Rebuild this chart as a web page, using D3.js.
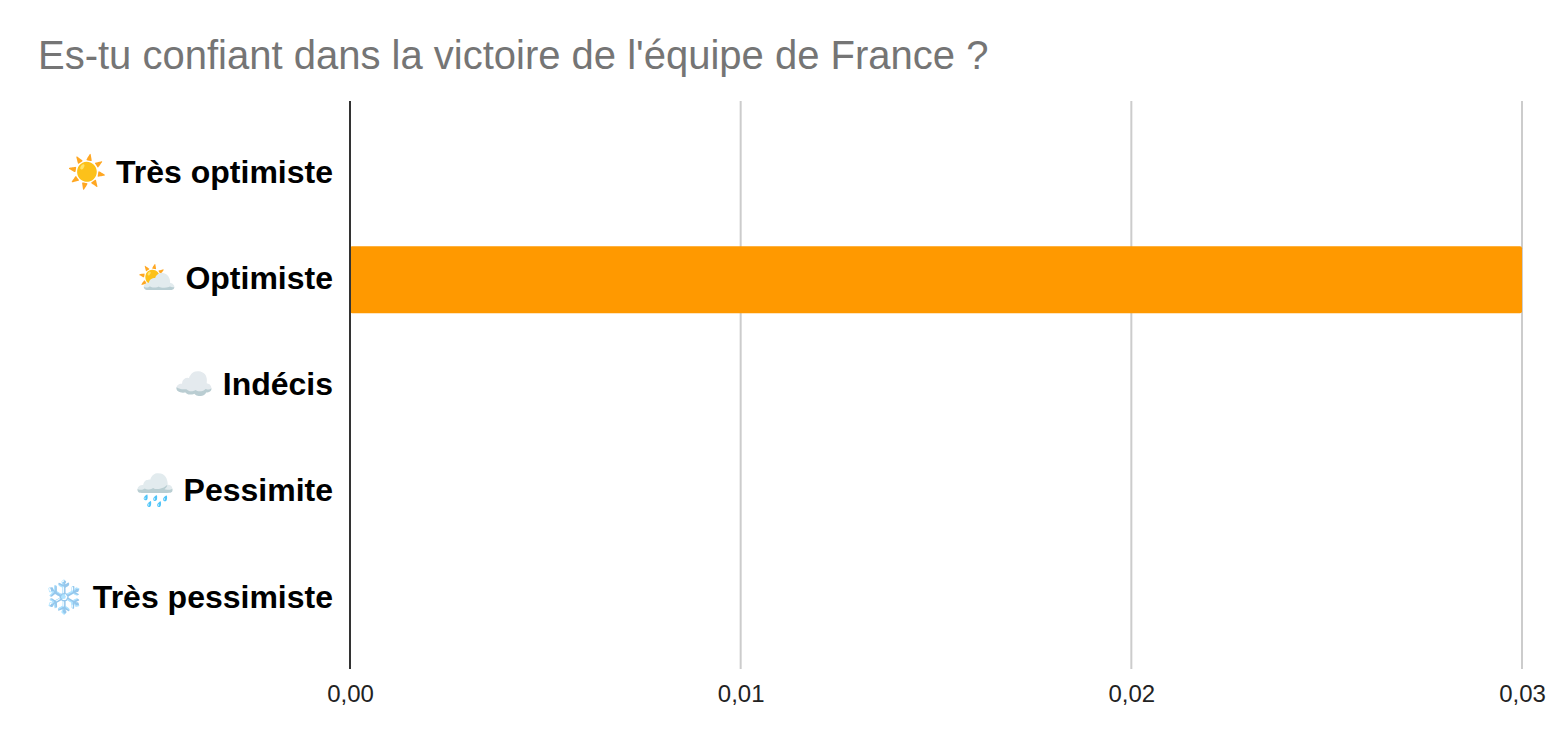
<!DOCTYPE html>
<html><head><meta charset="utf-8">
<script src="https://cdn.jsdelivr.net/npm/d3@7"></script>
<style>html,body{margin:0;padding:0;background:#fff;}svg{display:block;}</style>
</head><body>
<svg id="c" width="1560" height="742"></svg>
<script>
const categories = ["☀️ Très optimiste", "⛅ Optimiste", "☁️ Indécis", "🌧️ Pessimite", "❄️ Très pessimiste"];
const values = [0, 0.03, 0, 0, 0];
const tickValues = [0, 0.01, 0.02, 0.03];
const tickLabels = ["0,00", "0,01", "0,02", "0,03"];
const title = "Es-tu confiant dans la victoire de l'équipe de France ?";

(function () {
const svg = d3.select("#c");
const pLeft = 350, pRight = 1522, pTop = 101, pBottom = 669;
const font = "Arial, 'Liberation Sans', sans-serif";

const x = d3.scaleLinear().domain([0, 0.03]).range([pLeft, pRight]);
const y = d3.scaleBand().domain(categories).range([pTop + 1, pBottom + 1]).paddingInner(0.368).paddingOuter(0.358);

svg.append("text").attr("x", 38).attr("y", 69).attr("font-family", font).attr("font-size", 40)
  .attr("fill", "#757575").text(title);

// grid
svg.append("g").selectAll("line").data(tickValues.slice(1)).join("line")
  .attr("x1", d => x(d)).attr("x2", d => x(d)).attr("y1", pTop).attr("y2", pBottom)
  .attr("stroke", "#cccccc").attr("stroke-width", 2);

// bars
svg.append("g").selectAll("rect").data(values).join("rect")
  .attr("x", x(0)).attr("y", (d, i) => y(categories[i]))
  .attr("width", d => x(d) - x(0)).attr("height", y.bandwidth())
  .attr("rx", 2).attr("fill", "#ff9900");

// zero line
svg.append("line").attr("x1", x(0)).attr("x2", x(0)).attr("y1", pTop).attr("y2", pBottom)
  .attr("stroke", "#333333").attr("stroke-width", 2);

// x axis labels
const xAxis = d3.axisBottom(x).tickValues(tickValues).tickSize(0).tickFormat((d, i) => tickLabels[i]);
const gx = svg.append("g").attr("transform", `translate(0,${pBottom + 13})`).call(xAxis);
gx.select(".domain").remove();
gx.selectAll("text").attr("font-family", font).attr("font-size", 24).attr("fill", "#222").attr("dy", "0.71em");

// y axis labels
const yAxis = d3.axisLeft(y).tickSize(0).tickPadding(17);
const gy = svg.append("g").attr("transform", `translate(${pLeft},-1)`).call(yAxis);
gy.select(".domain").remove();
gy.selectAll("text").attr("font-family", font).attr("font-size", 32).attr("font-weight", "bold").attr("fill", "#000");
})();
</script>
</body></html>
